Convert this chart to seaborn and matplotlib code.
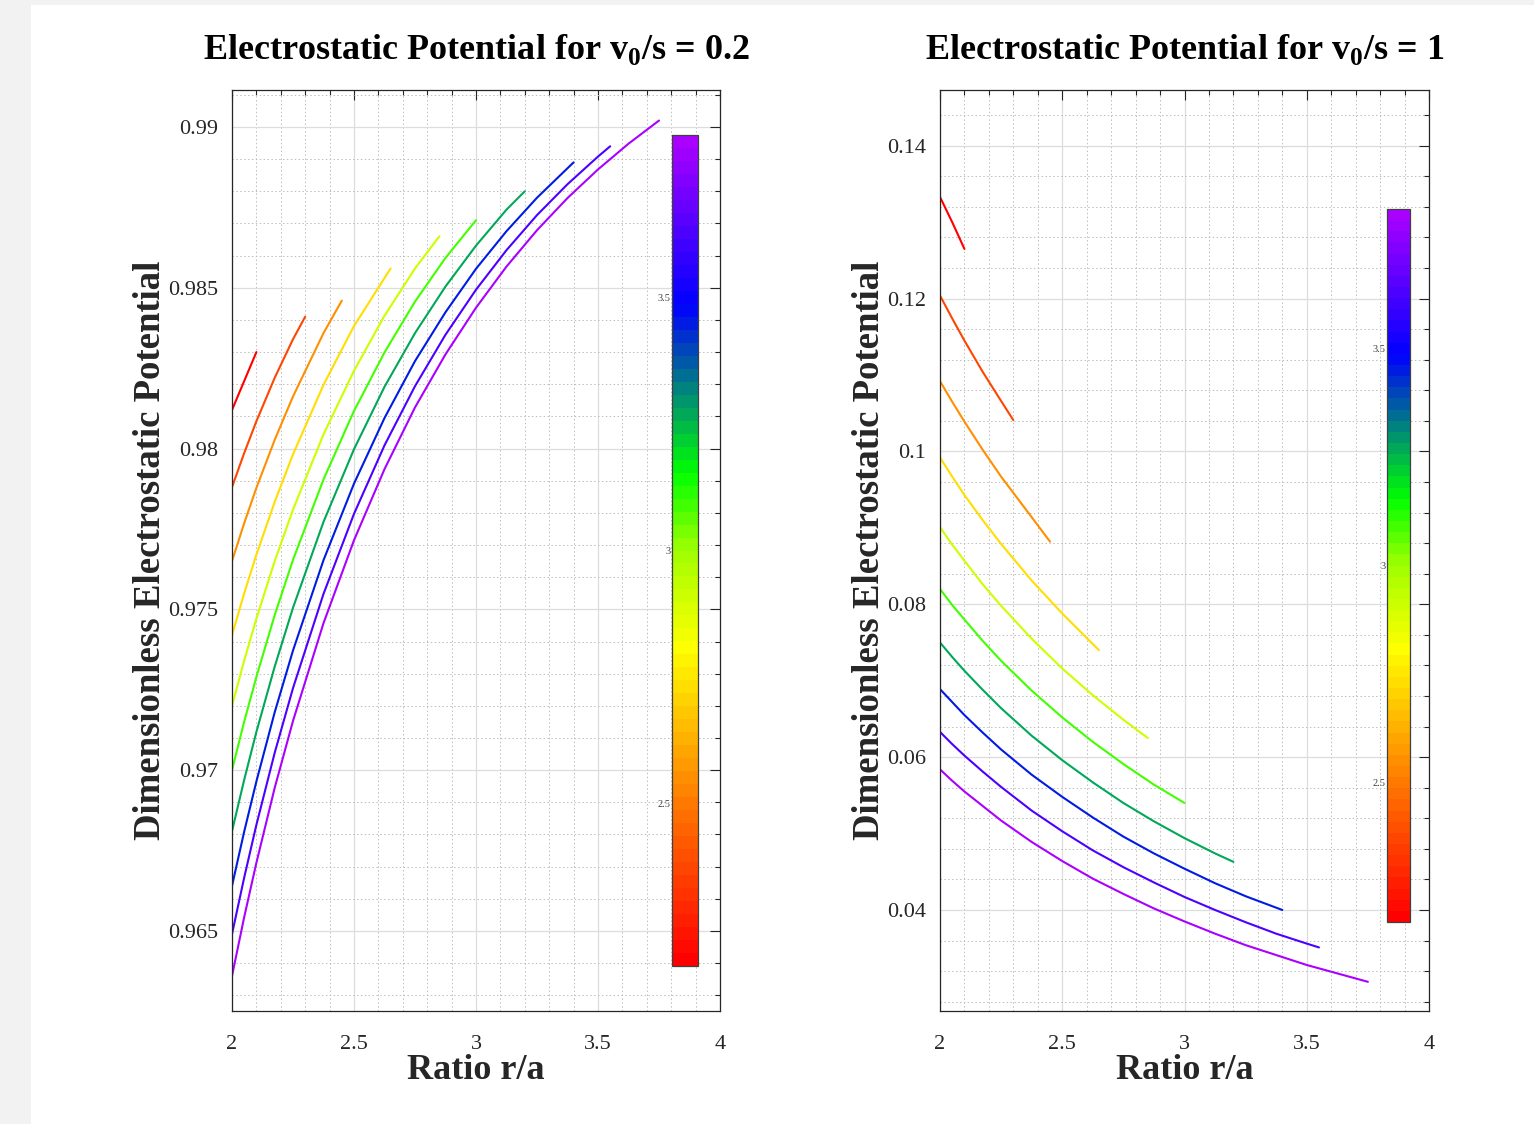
import numpy as np
import pandas as pd
import seaborn as sns
import matplotlib.pyplot as plt
from matplotlib.colors import LinearSegmentedColormap, Normalize
from matplotlib.cm import ScalarMappable
from matplotlib.ticker import MultipleLocator
from matplotlib.patches import Rectangle

# r/a positions read along the curves, and where each of the 10 curves stops
r_grid = [2.0, 2.05, 2.1, 2.175, 2.25, 2.375, 2.5, 2.625, 2.75, 2.875,
          3.0, 3.125, 3.25, 3.375, 3.5, 3.625]
r_end = [2.1, 2.3, 2.45, 2.65, 2.85, 3.0, 3.2, 3.4, 3.55, 3.75]

# potential, v0/s = 0.2
phi_02 = [
    [0.9812, 0.9821, 0.9830],
    [0.9788, 0.97986, 0.98085, 0.9822, 0.9834, 0.9841],
    [0.9765, 0.97768, 0.97878, 0.98027, 0.98162, 0.98359, 0.9846],
    [0.9742, 0.97550, 0.97670, 0.97834, 0.97982, 0.98198, 0.98381, 0.9856],
    [0.9720, 0.97341, 0.97471, 0.97650, 0.97810, 0.98044, 0.98242, 0.98413, 0.98560, 0.9866],
    [0.9700, 0.97151, 0.97290, 0.97482, 0.97654, 0.97904, 0.98117, 0.98299, 0.98457, 0.98593,
     0.9871],
    [0.9681, 0.96970, 0.97119, 0.97322, 0.97505, 0.97772, 0.97998, 0.98192, 0.98359, 0.98504,
     0.98631, 0.98743, 0.9880],
    [0.9664, 0.96809, 0.96965, 0.97180, 0.97372, 0.97653, 0.97891, 0.98095, 0.98272, 0.98424,
     0.98559, 0.98676, 0.98780, 0.9889],
    [0.9649, 0.96666, 0.96830, 0.97054, 0.97255, 0.97548, 0.97797, 0.98010, 0.98194, 0.98354,
     0.98494, 0.98617, 0.98726, 0.98822, 0.98908, 0.9894],
    [0.9636, 0.96543, 0.96712, 0.96945, 0.97153, 0.97457, 0.97715, 0.97936, 0.98128, 0.98293,
     0.98438, 0.98566, 0.98679, 0.98779, 0.98868, 0.98948, 0.9902],
]

# potential, v0/s = 1
phi_1 = [
    [0.1333, 0.1300, 0.1265],
    [0.1204, 0.1174, 0.1145, 0.1104, 0.1066, 0.1041],
    [0.1092, 0.1065, 0.1039, 0.1002, 0.0967, 0.0914, 0.0882],
    [0.0992, 0.0967, 0.0943, 0.0910, 0.0879, 0.0831, 0.0788, 0.0740],
    [0.0901, 0.0878, 0.0857, 0.0826, 0.0798, 0.0755, 0.0716, 0.0681, 0.0649, 0.0625],
    [0.0820, 0.0799, 0.0780, 0.0752, 0.0726, 0.0687, 0.0652, 0.0620, 0.0591, 0.0564, 0.0540],
    [0.0750, 0.0731, 0.0713, 0.0688, 0.0664, 0.0628, 0.0596, 0.0567, 0.0540, 0.0516, 0.0494,
     0.0474, 0.0463],
    [0.0689, 0.0672, 0.0655, 0.0632, 0.0610, 0.0577, 0.0548, 0.0521, 0.0496, 0.0474, 0.0454,
     0.0435, 0.0418, 0.0400],
    [0.0633, 0.0617, 0.0602, 0.0581, 0.0561, 0.0530, 0.0503, 0.0478, 0.0456, 0.0436, 0.0417,
     0.0400, 0.0384, 0.0369, 0.0356, 0.0351],
    [0.0584, 0.0569, 0.0555, 0.0536, 0.0517, 0.0489, 0.0464, 0.0441, 0.0421, 0.0402, 0.0385,
     0.0369, 0.0354, 0.0341, 0.0328, 0.0317, 0.0306],
]

cbar_ticks = [2.5, 3, 3.5]
clim = (2.18, 3.82)

cmap = LinearSegmentedColormap.from_list('rainbowish', [
    (0.0, '#ff0000'), (0.19, '#ff7800'), (0.38, '#ffff00'), (0.5, '#a0ff00'),
    (0.595, '#00ff00'), (0.70, '#008080'), (0.80, '#0000ff'), (1.0, '#aa00ff')], N=64)
line_cols = [cmap(k / 9) for k in range(10)]

sns.set_style('white')
plt.rcParams['font.family'] = ['Liberation Serif', 'DejaVu Serif']
plt.rcParams['mathtext.fontset'] = 'custom'
plt.rcParams['mathtext.rm'] = 'Liberation Serif'
plt.rcParams['mathtext.bf'] = 'Liberation Serif:bold'

fig = plt.figure(figsize=(15.34, 11.24), dpi=100)
fig.patch.set_facecolor('#f2f2f2')
fig.add_artist(Rectangle((31 / 1534, 0), 1, 1 - 5 / 1124, transform=fig.transFigure,
                         facecolor='white', edgecolor='none', zorder=-10))


def make_df(phis):
    rows = []
    for k, (end, pp) in enumerate(zip(r_end, phis)):
        rr = [r for r in r_grid if r <= end - 0.045] + [end]
        for r, p in zip(rr, pp):
            rows.append((k, r, p))
    return pd.DataFrame(rows, columns=['curve', 'r', 'phi'])


panels = [
    (phi_02, [232 / 1534, 113 / 1124, 488 / 1534, 921 / 1124], (0.96251, 0.99115), 0.005, 0.001,
     r'Electrostatic Potential for v$_\mathbf{0}$/s = 0.2',
     [672 / 1534, 158 / 1124, 26 / 1534, 831 / 1124]),
    (phi_1, [940 / 1534, 113 / 1124, 489 / 1534, 921 / 1124], (0.02678, 0.1473), 0.02, 0.004,
     r'Electrostatic Potential for v$_\mathbf{0}$/s = 1',
     [1387 / 1534, 202 / 1124, 23 / 1534, 713 / 1124]),
]

for phis, rect, ylim, ymaj, ymin, title, crect in panels:
    ax = fig.add_axes(rect)
    df = make_df(phis)
    sns.lineplot(data=df, x='r', y='phi', hue='curve', palette=line_cols, estimator=None,
                 sort=False, legend=False, lw=1.5, ax=ax)
    ax.set_xlim(2, 4)
    ax.set_ylim(*ylim)
    ax.xaxis.set_major_locator(MultipleLocator(0.5))
    ax.xaxis.set_minor_locator(MultipleLocator(0.1))
    ax.yaxis.set_major_locator(MultipleLocator(ymaj))
    ax.yaxis.set_minor_locator(MultipleLocator(ymin))
    ax.xaxis.set_major_formatter(plt.FuncFormatter(lambda v, p: f'{v:g}'))
    ax.yaxis.set_major_formatter(plt.FuncFormatter(lambda v, p: f'{v:g}'))
    ax.grid(which='major', color='#dddddd', lw=0.9, ls='-')
    ax.grid(which='minor', color='#bdbdbd', lw=0.7, ls=(0, (1.5, 2.5)))
    ax.set_axisbelow(True)
    ax.tick_params(which='both', direction='in', top=True, right=True, colors='#262626',
                   labelsize=16, width=0.8)
    ax.tick_params(which='major', length=7, pad=10)
    ax.tick_params(axis='x', which='major', pad=17)
    ax.tick_params(which='minor', length=3.5)
    for s in ax.spines.values():
        s.set_color('#262626')
        s.set_linewidth(0.9)
    ax.set_xlabel('Ratio r/a', fontsize=26, fontweight='bold', color='#262626', labelpad=0)
    ax.set_ylabel('Dimensionless Electrostatic Potential', fontsize=26.5, fontweight='bold',
                  color='#262626', labelpad=0)
    ax.set_title(title, fontsize=26, fontweight='bold', color='black', pad=22)

    cax = fig.add_axes(crect)
    sm = ScalarMappable(norm=Normalize(*clim), cmap=cmap)
    cb = fig.colorbar(sm, cax=cax)
    cb.set_ticks(cbar_ticks)
    cb.set_ticklabels([f'{t:g}' for t in cbar_ticks])
    cb.outline.set_edgecolor('#404040')
    cb.outline.set_linewidth(0.9)
    cax.yaxis.set_ticks_position('both')
    cax.tick_params(direction='in', length=6, width=0.8, colors='#404040',
                    labelleft=True, labelright=False, labelsize=7.5, pad=1)

fig.savefig('out.png', dpi=100, facecolor=fig.get_facecolor())
